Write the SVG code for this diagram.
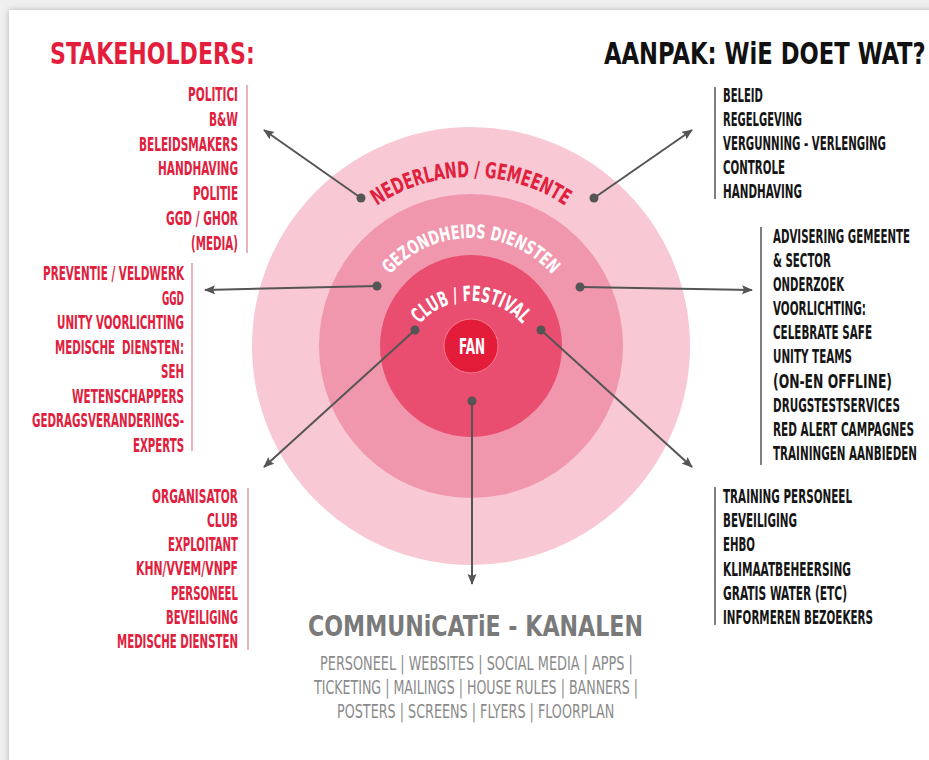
<svg xmlns="http://www.w3.org/2000/svg" width="929" height="760" viewBox="0 0 929 760">
  <defs>
    <filter id="shadow" x="-5%" y="-5%" width="110%" height="110%">
      <feGaussianBlur in="SourceAlpha" stdDeviation="3"/>
      <feComponentTransfer><feFuncA type="linear" slope="0.25"/></feComponentTransfer>
      <feMerge><feMergeNode/><feMergeNode in="SourceGraphic"/></feMerge>
    </filter>
    <marker id="arrow" markerUnits="userSpaceOnUse" markerWidth="12" markerHeight="10" refX="10" refY="4.5" orient="auto">
      <path d="M0,0 L11,4.5 L0,9 L2,4.5 z" fill="#555555"/>
    </marker>
    <path id="arcOuter" d="M302,346 A169,169 0 0 1 640,346"/>
    <path id="arcMid" d="M363,346 A108,108 0 0 1 579,346"/>
    <path id="arcInner" d="M402,370 A69,69 0 0 1 540,370"/>
    <style>
      .t { font-family: 'DejaVu Sans Condensed', 'DejaVu Sans', 'Liberation Sans', sans-serif; font-stretch: condensed; }
      .red { fill: #e0203d; font-size: 19px; font-weight: bold; }
      .blk { fill: #151515; font-size: 19px; font-weight: bold; }
      .title { font-size: 31px; font-weight: bold; }
      .gray1 { fill: #7a7a7a; font-size: 29px; font-weight: bold; }
      .gray2 { fill: #8a8a8a; font-size: 20px; }
      .bar-r { stroke: #e39aa6; stroke-width: 1.5; }
      .bar-k { stroke: #555555; stroke-width: 1.5; }
      .conn { stroke: #555555; stroke-width: 2; fill: none; marker-end: url(#arrow); }
      .dot { fill: #555555; }
      .arc { font-size: 22px; font-weight: bold; }
    </style>
  </defs>

  <rect x="0" y="0" width="929" height="760" fill="#efefef"/>
  <rect x="9" y="10" width="940" height="770" fill="#ffffff" filter="url(#shadow)"/>

  <g id="title-stakeholders">
    <text class="t title" transform="translate(50 64) scale(0.75 1)" x="0" y="0" fill="#e31e3c" textLength="273" lengthAdjust="spacingAndGlyphs">STAKEHOLDERS:</text>
  </g>
  <g id="title-aanpak">
    <text class="t title" transform="translate(604 64) scale(0.75 1)" x="0" y="0" fill="#111111" textLength="429" lengthAdjust="spacingAndGlyphs">AANPAK: WiE DOET WAT?</text>
  </g>

  <g id="rings">
    <circle cx="471" cy="346" r="219" fill="#f8c8d4"/>
    <circle cx="471" cy="346" r="152" fill="#f097ad"/>
    <circle cx="471" cy="346" r="91" fill="#e94d6f"/>
    <text class="t arc" fill="#e0203d"><textPath href="#arcOuter" startOffset="50%" text-anchor="middle" textLength="200" lengthAdjust="spacingAndGlyphs">NEDERLAND / GEMEENTE</textPath></text>
    <text class="t arc" fill="#ffffff" style="font-size:19px"><textPath href="#arcMid" startOffset="50%" text-anchor="middle" textLength="183" lengthAdjust="spacingAndGlyphs">GEZONDHEIDS DIENSTEN</textPath></text>
    <text class="t arc" fill="#ffffff" style="font-size:21px"><textPath href="#arcInner" startOffset="50%" text-anchor="middle" textLength="116" lengthAdjust="spacingAndGlyphs">CLUB / FESTIVAL</textPath></text>
  </g>

  <g id="fan">
    <circle cx="471" cy="346" r="27" fill="#e31c3a" stroke="#f47b8f" stroke-width="1"/>
    <text class="t" x="472" y="354" fill="#ffffff" font-size="22" font-weight="bold" text-anchor="middle" textLength="26" lengthAdjust="spacingAndGlyphs">FAN</text>
  </g>

  <g id="connectors">
    <line class="conn" x1="361" y1="198" x2="264" y2="130"/>
    <circle class="dot" cx="361" cy="198" r="4.5"/>
    <line class="conn" x1="594" y1="198" x2="692" y2="130"/>
    <circle class="dot" cx="594" cy="198" r="4.5"/>
    <line class="conn" x1="377" y1="286" x2="205" y2="290"/>
    <circle class="dot" cx="377" cy="286" r="4.5"/>
    <line class="conn" x1="580" y1="287" x2="752" y2="290"/>
    <circle class="dot" cx="580" cy="287" r="4.5"/>
    <line class="conn" x1="415" y1="330" x2="264" y2="467"/>
    <circle class="dot" cx="415" cy="330" r="4.5"/>
    <line class="conn" x1="541" y1="330" x2="692" y2="467"/>
    <circle class="dot" cx="541" cy="330" r="4.5"/>
    <line class="conn" x1="472" y1="401" x2="472" y2="584"/>
    <circle class="dot" cx="472" cy="401" r="4.5"/>
  </g>

  <g id="stakeholders-overheid">
    <line class="bar-r" x1="247" y1="85" x2="247" y2="253"/>
    <g class="t red" text-anchor="end" transform="translate(238 0) scale(0.62 1)">
      <text x="0" y="101" textLength="80.6" lengthAdjust="spacingAndGlyphs">POLITICI</text>
      <text x="0" y="125.8" textLength="46.8" lengthAdjust="spacingAndGlyphs">B&amp;W</text>
      <text x="0" y="150.6" textLength="159.7" lengthAdjust="spacingAndGlyphs">BELEIDSMAKERS</text>
      <text x="0" y="175.4" textLength="129" lengthAdjust="spacingAndGlyphs">HANDHAVING</text>
      <text x="0" y="200.2" textLength="72.6" lengthAdjust="spacingAndGlyphs">POLITIE</text>
      <text x="0" y="225" textLength="116.1" lengthAdjust="spacingAndGlyphs">GGD / GHOR</text>
      <text x="0" y="249.8" textLength="75.8" lengthAdjust="spacingAndGlyphs">(MEDIA)</text>
    </g>
  </g>

  <g id="stakeholders-gezondheid">
    <line class="bar-r" x1="192" y1="263" x2="192" y2="451"/>
    <g class="t red" text-anchor="end" transform="translate(184 0) scale(0.62 1)">
      <text x="0" y="280" textLength="227.4" lengthAdjust="spacingAndGlyphs">PREVENTIE / VELDWERK</text>
      <text x="0" y="304.6" textLength="35.5" lengthAdjust="spacingAndGlyphs">GGD</text>
      <text x="0" y="329.1" textLength="204.8" lengthAdjust="spacingAndGlyphs">UNITY VOORLICHTING</text>
      <text x="0" y="353.7" textLength="208.1" lengthAdjust="spacingAndGlyphs" xml:space="preserve">MEDISCHE  DIENSTEN:</text>
      <text x="0" y="378.3" textLength="37.1" lengthAdjust="spacingAndGlyphs">SEH</text>
      <text x="0" y="402.9" textLength="180.6" lengthAdjust="spacingAndGlyphs">WETENSCHAPPERS</text>
      <text x="0" y="427.4" textLength="245.2" lengthAdjust="spacingAndGlyphs">GEDRAGSVERANDERINGS-</text>
      <text x="0" y="452" textLength="82.3" lengthAdjust="spacingAndGlyphs">EXPERTS</text>
    </g>
  </g>

  <g id="stakeholders-club">
    <line class="bar-r" x1="248" y1="488" x2="248" y2="650"/>
    <g class="t red" text-anchor="end" transform="translate(238 0) scale(0.62 1)">
      <text x="0" y="503" textLength="138.7" lengthAdjust="spacingAndGlyphs">ORGANISATOR</text>
      <text x="0" y="527.2" textLength="50" lengthAdjust="spacingAndGlyphs">CLUB</text>
      <text x="0" y="551.3" textLength="112.9" lengthAdjust="spacingAndGlyphs">EXPLOITANT</text>
      <text x="0" y="575.5" textLength="164.5" lengthAdjust="spacingAndGlyphs">KHN/VVEM/VNPF</text>
      <text x="0" y="599.7" textLength="108.1" lengthAdjust="spacingAndGlyphs">PERSONEEL</text>
      <text x="0" y="623.8" textLength="116.1" lengthAdjust="spacingAndGlyphs">BEVEILIGING</text>
      <text x="0" y="648" textLength="195.2" lengthAdjust="spacingAndGlyphs">MEDISCHE DIENSTEN</text>
    </g>
  </g>

  <g id="aanpak-overheid">
    <line class="bar-k" x1="715" y1="87" x2="715" y2="199"/>
    <g class="t blk" transform="translate(723 0) scale(0.62 1)">
      <text x="0" y="102" textLength="64.5" lengthAdjust="spacingAndGlyphs">BELEID</text>
      <text x="0" y="126" textLength="127.4" lengthAdjust="spacingAndGlyphs">REGELGEVING</text>
      <text x="0" y="150" textLength="262.9" lengthAdjust="spacingAndGlyphs">VERGUNNING - VERLENGING</text>
      <text x="0" y="174" textLength="100" lengthAdjust="spacingAndGlyphs">CONTROLE</text>
      <text x="0" y="198" textLength="127.4" lengthAdjust="spacingAndGlyphs">HANDHAVING</text>
    </g>
  </g>

  <g id="aanpak-gezondheid">
    <line class="bar-k" x1="761" y1="227" x2="761" y2="465"/>
    <g class="t blk" transform="translate(773 0) scale(0.62 1)">
      <text x="0" y="243" textLength="221" lengthAdjust="spacingAndGlyphs">ADVISERING GEMEENTE</text>
      <text x="0" y="267.1" textLength="93.5" lengthAdjust="spacingAndGlyphs">&amp; SECTOR</text>
      <text x="0" y="291.2" textLength="114.5" lengthAdjust="spacingAndGlyphs">ONDERZOEK</text>
      <text x="0" y="315.3" textLength="150" lengthAdjust="spacingAndGlyphs">VOORLICHTING:</text>
      <text x="0" y="339.4" textLength="159.7" lengthAdjust="spacingAndGlyphs">CELEBRATE SAFE</text>
      <text x="0" y="363.5" textLength="127.4" lengthAdjust="spacingAndGlyphs">UNITY TEAMS</text>
      <text x="0" y="387.6" textLength="191.9" lengthAdjust="spacingAndGlyphs">(ON-EN OFFLINE)</text>
      <text x="0" y="411.7" textLength="204.8" lengthAdjust="spacingAndGlyphs">DRUGSTESTSERVICES</text>
      <text x="0" y="435.8" textLength="227.4" lengthAdjust="spacingAndGlyphs">RED ALERT CAMPAGNES</text>
      <text x="0" y="460" textLength="232.3" lengthAdjust="spacingAndGlyphs">TRAININGEN AANBIEDEN</text>
    </g>
  </g>

  <g id="aanpak-club">
    <line class="bar-k" x1="715" y1="487" x2="715" y2="625"/>
    <g class="t blk" transform="translate(723 0) scale(0.62 1)">
      <text x="0" y="503" textLength="208.1" lengthAdjust="spacingAndGlyphs">TRAINING PERSONEEL</text>
      <text x="0" y="527.2" textLength="119.4" lengthAdjust="spacingAndGlyphs">BEVEILIGING</text>
      <text x="0" y="551.4" textLength="51.6" lengthAdjust="spacingAndGlyphs">EHBO</text>
      <text x="0" y="575.6" textLength="206.5" lengthAdjust="spacingAndGlyphs">KLIMAATBEHEERSING</text>
      <text x="0" y="599.8" textLength="200" lengthAdjust="spacingAndGlyphs">GRATIS WATER (ETC)</text>
      <text x="0" y="624" textLength="241.9" lengthAdjust="spacingAndGlyphs">INFORMEREN BEZOEKERS</text>
    </g>
  </g>

  <g id="communicatie">
    <text class="t gray1" transform="translate(308 636) scale(0.8 1)" x="0" y="0" textLength="418.8" lengthAdjust="spacingAndGlyphs">COMMUNiCATiE - KANALEN</text>
    <g class="t gray2">
      <text transform="translate(320 670) scale(0.7 1)" x="0" y="0" textLength="447" lengthAdjust="spacingAndGlyphs">PERSONEEL | WEBSITES | SOCIAL MEDIA | APPS |</text>
      <text transform="translate(314 694) scale(0.7 1)" x="0" y="0" textLength="463" lengthAdjust="spacingAndGlyphs">TICKETING | MAILINGS | HOUSE RULES | BANNERS |</text>
      <text transform="translate(337 718) scale(0.7 1)" x="0" y="0" textLength="396" lengthAdjust="spacingAndGlyphs">POSTERS | SCREENS | FLYERS | FLOORPLAN</text>
    </g>
  </g>
</svg>
